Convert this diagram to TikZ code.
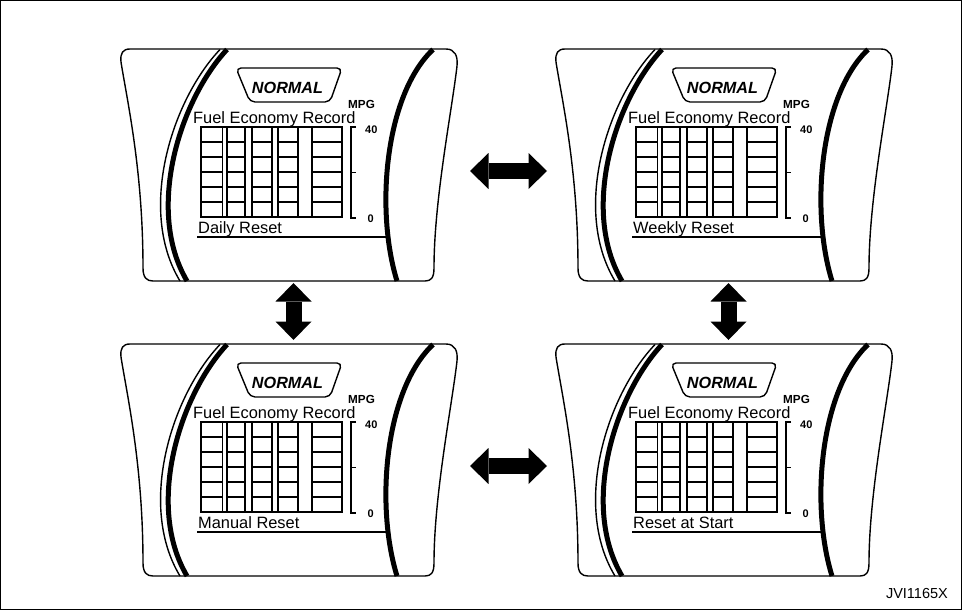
\documentclass[tikz,border=0pt]{standalone}
\usepackage{fontspec}
\setmainfont{Liberation Sans}
\usepackage{tikz}
\usetikzlibrary{arrows.meta}

\tikzset{
  panelframe/.style={minimum width=336pt, minimum height=232pt, inner sep=0pt, outer sep=0pt},
  outline/.style={line width=1.4pt, line join=round},
  grid/.style={line width=1.5pt},
  bezel/.style={line width=5pt},
  txt/.style={inner sep=0pt, anchor=base west, font=\fontsize{16.4}{19}\selectfont},
  mode/.style={inner sep=0pt, anchor=base, font=\fontsize{16.2}{19}\selectfont\bfseries\itshape},
  unit/.style={inner sep=0pt, anchor=base west, font=\fontsize{11.7}{14}\selectfont\bfseries},
  bigarrow/.style={line width=16pt,
    {Triangle[width=36pt, length=18.5pt, line width=0pt]}-{Triangle[width=36pt, length=18.5pt, line width=0pt]}}
}

\begin{document}
\begin{tikzpicture}[x=1pt, y=-1pt]
    \useasboundingbox (0,0) rectangle (962,610);
    \draw[line width=1pt] (0.5,0.5) rectangle (961.5,609.5);
    \def\panel#1#2{
      \node[panelframe] (#1) at (289,165) {};
      % housing
      \draw[outline] (130,49) -- (446,49)
        .. controls (455,49) and (458,56) .. (457,66)
        .. controls (452,110) and (434,200) .. (434,268)
        .. controls (434,278) and (431,281) .. (425,281)
        -- (153,281)
        .. controls (147,281) and (143,278) .. (143,268)
        .. controls (143,170) and (127,100) .. (121,62)
        .. controls (120,53) and (123,49) .. (130,49) -- cycle;
      % badge
      \draw[outline, rounded corners=5pt] (236,68) -- (342,68) -- (330,102) -- (250,102) -- cycle;
      \node[mode] (#1-mode) at (287.5,93) {NORMAL};
      % bars
      \foreach \a/\b in {201/222.5, 227/245, 252/272, 278/298, 312/342} {
        \draw[grid] (\a,127) rectangle (\b,217);
        \foreach \r in {142,157,172,187,202}
          \draw[grid] (\a,\r) -- (\b,\r);
      }
      \draw[grid] (201,127) -- (342,127) (201,217) -- (342,217);
      % scale
      \draw[grid] (356,127) -- (351,127) -- (351,218) -- (356,218) (351,172.5) -- (356,172.5);
      \node[unit] (#1-unit) at (348,108) {MPG};
      \node[unit, font=\fontsize{11}{13}\selectfont\bfseries] (#1-max) at (365,133) {40};
      \node[unit, font=\fontsize{11}{13}\selectfont\bfseries] (#1-min) at (367.5,222) {0};
      \node[txt] (#1-title) at (193,123) {Fuel Economy Record};
      \draw[outline] (197,237) -- (388,237);
      \node[txt] (#1-name) at (198,233) {#2};
      % bezels
      \draw[bezel] (433,49.5) .. controls (385,95) and (375,210) .. (397,281);
      \draw[bezel] (227,49.5) .. controls (180,100) and (145,210) .. (187,281);
      \draw[outline] (220,49.5) .. controls (172,100) and (137,210) .. (180,281);
    }
    % daily
    \begin{scope}
      \panel{daily}{Daily Reset}
    \end{scope}
    % weekly
    \begin{scope}[shift={(435,0)}]
      \panel{weekly}{Weekly Reset}
    \end{scope}
    % manual
    \begin{scope}[shift={(0,295)}]
      \panel{manual}{Manual Reset}
    \end{scope}
    % start
    \begin{scope}[shift={(435,295)}]
      \panel{start}{Reset at Start}
    \end{scope}
    % arrows
    \draw[bigarrow, shorten <=13pt, shorten >=9pt] ([yshift=-6pt]daily.east) -- ([yshift=-6pt]weekly.west);
    \draw[bigarrow, shorten <=13pt, shorten >=9pt] ([yshift=-6pt]manual.east) -- ([yshift=-6pt]start.west);
    \draw[bigarrow, shorten <=2pt, shorten >=4pt] ([xshift=4.5pt]daily.south) -- ([xshift=4.5pt]manual.north);
    \draw[bigarrow, shorten <=2pt, shorten >=4pt] ([xshift=4.5pt]weekly.south) -- ([xshift=4.5pt]start.north);
    \node[anchor=base east, inner sep=0pt, font=\fontsize{14.5}{17}\selectfont] (code) at (948,598) {JVI1165X};
\end{tikzpicture}
\end{document}
